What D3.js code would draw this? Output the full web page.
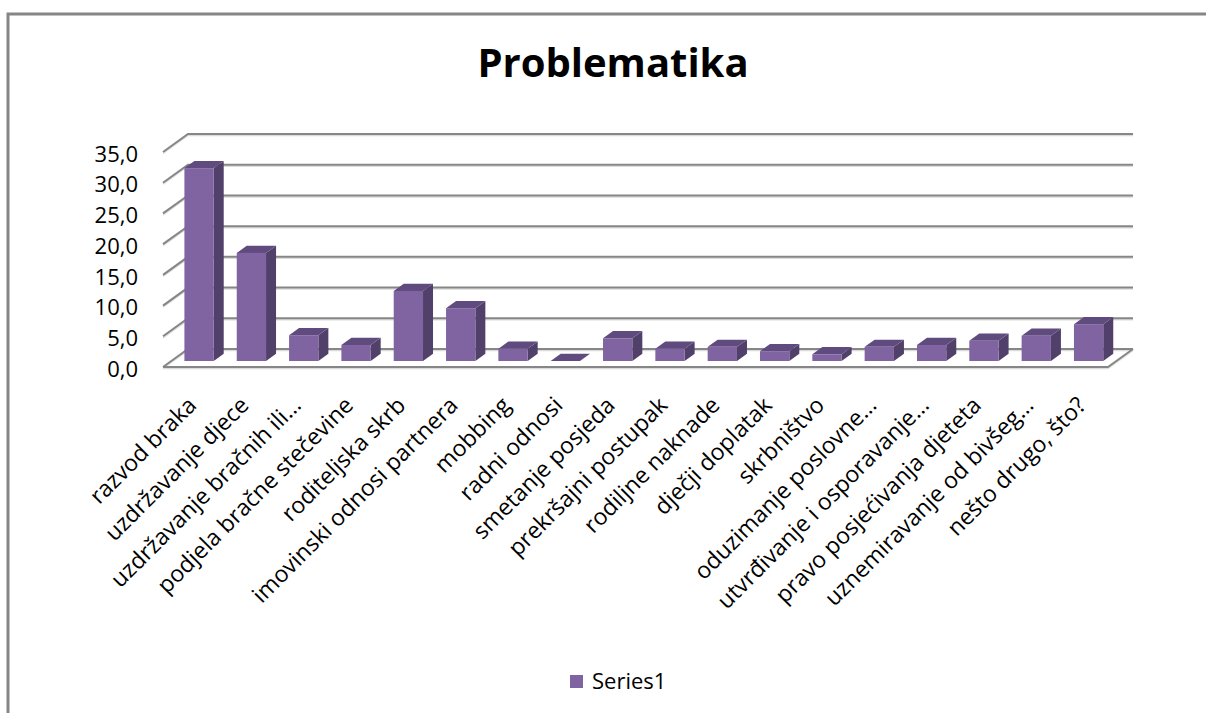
<!DOCTYPE html>
<html>
<head>
<meta charset="utf-8">
<script src="https://cdn.jsdelivr.net/npm/d3@7"></script>
<style>
   body { margin: 0; background: #fff; overflow: hidden; }
   svg { display: block; }
   text { font-family: "Open Sans", sans-serif; fill: #000; }
</style>
</head>
<body>
<svg id="chart"></svg>
<script>
// data
const categories = ["razvod braka", "uzdržavanje djece", "uzdržavanje bračnih ili…", "podjela bračne stečevine",
   "roditeljska skrb", "imovinski odnosi partnera", "mobbing", "radni odnosi", "smetanje posjeda",
   "prekršajni postupak", "rodiljne naknade", "dječji doplatak", "skrbništvo", "oduzimanje poslovne…",
   "utvrđivanje i osporavanje…", "pravo posjećivanja djeteta", "uznemiravanje od bivšeg…", "nešto drugo, što?"];
const values = [31.4, 17.6, 4.2, 2.6, 11.4, 8.6, 2.0, 0, 3.7, 2.0, 2.3, 1.6, 1.1, 2.3, 2.6, 3.3, 4.1, 6.0];
const yTicks = [0, 5, 10, 15, 20, 25, 30, 35];
const seriesName = "Series1";

const width = 1206, height = 713;
const svg = d3.select("#chart").attr("width", width).attr("height", height);

//- frame of the chart area (right and bottom edges fall outside the picture)
svg.append("rect")
   .attr("x", 8).attr("y", 14)
   .attr("width", 1400).attr("height", 900)
   .attr("fill", "none")
   .attr("stroke", "#868686")
   .attr("stroke-width", 3);

svg.append("text")
   .attr("x", 613).attr("y", 77)
   .attr("text-anchor", "middle")
   .attr("font-size", 40)
   .attr("font-weight", "bold")
   .text("Problematika");

// 3d plot geometry: front plane + depth offset to back wall
const front = {x0: 163, x1: 1108};
const depth = {dx: 25, dy: -18};

const x = d3.scaleBand()
   .domain(categories)
   .range([front.x0, front.x1])
   .paddingInner(0.44)
   .paddingOuter(0.25);

const y = d3.scaleLinear()
   .domain([0, 35])
   .range([367, 152]);

// gridlines on back wall + side wall
const grid = svg.append("g");
yTicks.forEach(v => {
   const yf = y(v), yb = y(v) + depth.dy;
   const pts = [[front.x0, yf], [front.x0 + depth.dx, yb], [front.x1 + depth.dx, yb]];
   grid.append("polyline")
      .attr("points", pts.map(p => [p[0], p[1] + 1.5].join(",")).join(" "))
      .attr("fill", "none").attr("stroke", "#dcdcdc").attr("stroke-width", 1.5);
   grid.append("polyline")
      .attr("points", pts.map(p => p.join(",")).join(" "))
      .attr("fill", "none").attr("stroke", "#868686").attr("stroke-width", 2);
});

// floor front edge + right edge
const floorPts = [[front.x0, y(0)], [front.x1, y(0)], [front.x1 + depth.dx, y(0) + depth.dy]];
grid.append("polyline")
   .attr("points", floorPts.map(p => [p[0], p[1] + 1.5].join(",")).join(" "))
   .attr("fill", "none").attr("stroke", "#dcdcdc").attr("stroke-width", 1.5);
grid.append("polyline")
   .attr("points", floorPts.map(p => p.join(",")).join(" "))
   .attr("fill", "none").attr("stroke", "#868686").attr("stroke-width", 2);

// y axis labels
svg.append("g")
   .selectAll("text")
   .data(yTicks)
   .enter().append("text")
      .attr("x", 138)
      .attr("y", d => y(d) + 2)
      .attr("dy", "0.35em")
      .attr("text-anchor", "end")
      .attr("font-size", 22)
      .text(d => d3.format(".1f")(d).replace(".", ","));

// bars: front face sits 1/3 into the depth, bar is 0.4 of depth deep
const f0 = 1 / 3, bd = 0.4;
const ox = depth.dx * f0, oy = depth.dy * f0;
const bx = depth.dx * bd, by = depth.dy * bd;

const bars = svg.append("g")
   .selectAll("g")
   .data(categories.map((c, i) => ({cat: c, val: values[i]})))
   .enter().append("g");

bars.append("polygon") // side
   .attr("points", d => {
      const x1 = x(d.cat) + ox + x.bandwidth(), yt = y(d.val) + oy, yb = y(0) + oy;
      return [[x1, yt], [x1 + bx, yt + by], [x1 + bx, yb + by], [x1, yb]].map(p => p.join(",")).join(" ");
   })
   .attr("fill", "#514069");

bars.append("polygon") // top
   .attr("points", d => {
      const x0 = x(d.cat) + ox, x1 = x0 + x.bandwidth(), yt = y(d.val) + oy;
      return [[x0, yt], [x0 + bx, yt + by], [x1 + bx, yt + by], [x1, yt]].map(p => p.join(",")).join(" ");
   })
   .attr("fill", "#604b7f");

bars.append("rect") // front
   .attr("x", d => x(d.cat) + ox)
   .attr("y", d => y(d.val) + oy)
   .attr("width", x.bandwidth())
   .attr("height", d => y(0) - y(d.val))
   .attr("fill", "#8064a2");

// category labels, rotated
svg.append("g")
   .selectAll("text")
   .data(categories)
   .enter().append("text")
      .attr("transform", d => `translate(${x(d) + ox + x.bandwidth() / 2 - 7},401) rotate(-45)`)
      .attr("text-anchor", "end")
      .attr("dy", "0.35em")
      .attr("font-size", 23)
      .text(d => d);

// legend
svg.append("rect")
   .attr("x", 570).attr("y", 675)
   .attr("width", 13).attr("height", 13)
   .attr("fill", "#8064a2");
svg.append("text")
   .attr("x", 592).attr("y", 689)
   .attr("font-size", 22)
   .text(seriesName);
</script>
</body>
</html>
